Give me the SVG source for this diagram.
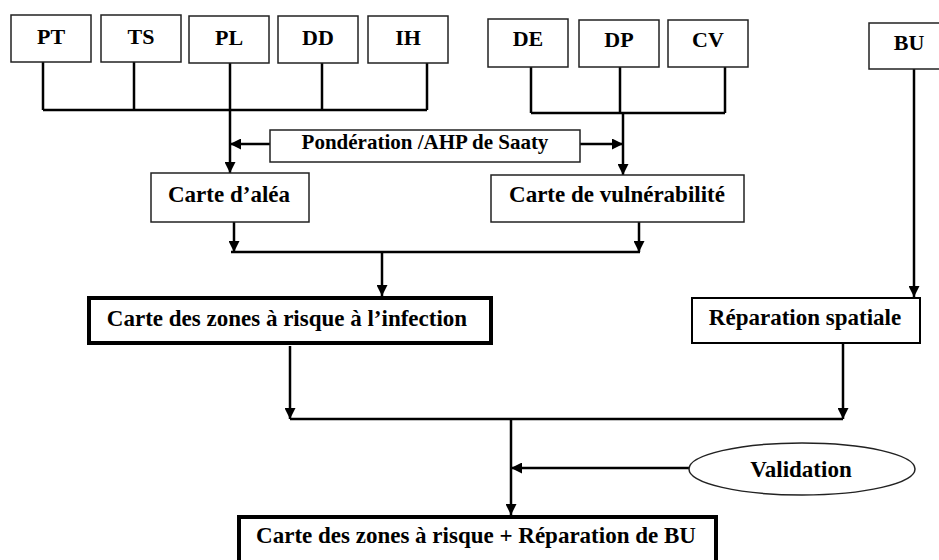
<svg xmlns="http://www.w3.org/2000/svg" width="939" height="560" viewBox="0 0 939 560">
<defs>
<marker id="ah" markerUnits="userSpaceOnUse" markerWidth="11" markerHeight="11" refX="10" refY="5" orient="auto" viewBox="0 0 10 10">
<path d="M0,0 L10,5 L0,10 z" fill="#000"/>
</marker>
<style>
.box{fill:#fff;stroke:#222;stroke-width:1.5}
.thick{fill:#fff;stroke:#000;stroke-width:4}
.mid{fill:#fff;stroke:#000;stroke-width:2}
.t{font-family:"Liberation Serif","Times New Roman",serif;font-weight:bold;font-size:23px;fill:#000;text-anchor:middle}
.s{font-size:22px}
.p{font-size:21px}
.c{fill:none;stroke:#000;stroke-width:2.5}
.a{marker-end:url(#ah)}
</style>
</defs>
<rect width="939" height="560" fill="#fff"/>
<g id="connectors">
<path class="c" d="M43,62 V110 M134,62 V110 M322,63 V110 M427,63 V110 M43,110 H427"/>
<path class="c a" d="M230,63 V173"/>
<path class="c a" d="M270,144 H230"/>
<path class="c a" d="M580,144 H623"/>
<path class="c" d="M531,67 V113 M620,67 V113 M725,67 V113 M531,113 H725"/>
<path class="c a" d="M623,113 V175"/>
<path class="c a" d="M914,69 V297"/>
<path class="c a" d="M234,222 V252"/>
<path class="c a" d="M639,222 V252"/>
<path class="c" d="M231,252 H640"/>
<path class="c a" d="M382,252 V296"/>
<path class="c a" d="M290,346 V419"/>
<path class="c a" d="M843,344 V419"/>
<path class="c" d="M290,419 H843"/>
<path class="c a" d="M511,419 V515"/>
<path class="c a" d="M689,468 H511"/>
</g>
<g id="PT"><rect class="box" x="11" y="15" width="80" height="47"/><text class="t s" x="51" y="44">PT</text></g>
<g id="TS"><rect class="box" x="101" y="15" width="80" height="47"/><text class="t s" x="141" y="44">TS</text></g>
<g id="PL"><rect class="box" x="189" y="16" width="80" height="47"/><text class="t s" x="229" y="45">PL</text></g>
<g id="DD"><rect class="box" x="278" y="16" width="80" height="47"/><text class="t s" x="318" y="45">DD</text></g>
<g id="IH"><rect class="box" x="368" y="16" width="80" height="47"/><text class="t s" x="408" y="45">IH</text></g>
<g id="DE"><rect class="box" x="488" y="19" width="80" height="48"/><text class="t s" x="528" y="46">DE</text></g>
<g id="DP"><rect class="box" x="579" y="20" width="80" height="47"/><text class="t s" x="619" y="47">DP</text></g>
<g id="CV"><rect class="box" x="668" y="20" width="80" height="47"/><text class="t s" x="708" y="47">CV</text></g>
<g id="BU"><rect class="box" x="869" y="23" width="85" height="46"/><text class="t s" x="909" y="50">BU</text></g>
<g id="ponderation"><rect class="box" x="270" y="130" width="310" height="32"/><text class="t p" x="425" y="149">Pondération /AHP de Saaty</text></g>
<g id="alea"><rect class="box" x="151" y="173" width="158" height="49"/><text class="t" x="229" y="202">Carte d’aléa</text></g>
<g id="vulnerabilite"><rect class="box" x="491" y="175" width="253" height="47"/><text class="t" x="617" y="202">Carte de vulnérabilité</text></g>
<g id="zones"><rect class="thick" x="89" y="298" width="402" height="45"/><text class="t" x="287" y="326">Carte des zones à risque à l’infection</text></g>
<g id="reparation"><rect class="mid" x="692" y="298" width="228" height="45"/><text class="t" x="805" y="325">Réparation spatiale</text></g>
<g id="validation"><ellipse cx="802" cy="469" rx="113" ry="26" fill="#fff" stroke="#222" stroke-width="1.5"/><text class="t" x="801" y="477">Validation</text></g>
<g id="final"><rect class="thick" x="239" y="517" width="477" height="60"/><text class="t" x="476" y="543">Carte des zones à risque + Réparation de BU</text></g>
</svg>
